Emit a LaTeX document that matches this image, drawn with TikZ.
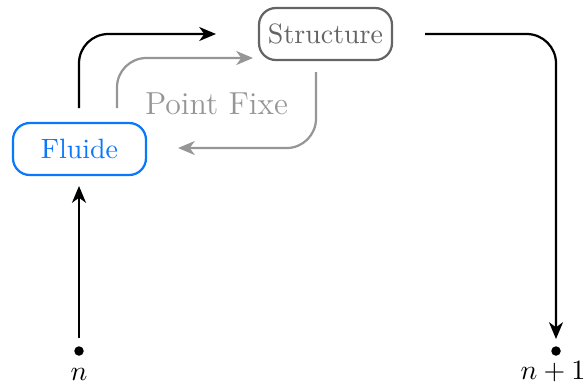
\documentclass[tikz,border=0pt]{standalone}
\usetikzlibrary{arrows.meta}
\definecolor{fluideblue}{RGB}{10,120,250}
\definecolor{structgray}{RGB}{100,100,100}
\definecolor{fixgray}{RGB}{150,150,150}
\begin{document}
\begin{tikzpicture}[x=0.358pt,y=-0.358pt,
  box/.style={draw,rounded corners=6pt,line width=0.8pt,minimum width=47.6pt,minimum height=18.6pt,inner sep=0pt},
  flow/.style={line width=0.8pt,rounded corners=10.5pt,-{Stealth[length=6pt,width=5pt,inset=1.8pt]}},
  dotn/.style={circle,fill=black,inner sep=0pt,minimum size=3.4pt}]
\useasboundingbox (0,0) rectangle (587,385);
\node[box,draw=structgray,text=structgray] (S) at (325.5,34) {Structure};
\node[box,draw=fluideblue,text=fluideblue] (F) at (79.5,149) {Fluide};
\node[dotn] (n0) at (79,351) {};
\node[dotn] (n1) at (556,351) {};
\node (l0) at (79,374) {$n$};
\node (l1) at (553,372) {$n+1$};
\node[text=fixgray,font=\fontsize{11.4}{13}\selectfont] (pf) at (216.5,104) {Point Fixe};
\coordinate (a1) at (79,108);
\coordinate (a2) at (216,34);
\coordinate (b1) at (117,108);
\coordinate (b2) at (253,58);
\coordinate (c1) at (316,72);
\coordinate (c2) at (178,148);
\coordinate (d1) at (425,34);
\coordinate (d2) at (556,339);
\coordinate (e1) at (79,338);
\coordinate (e2) at (79,186);
\draw[flow] (e1) -- (e2);
\draw[flow] (a1) |- (a2);
\draw[flow,color=fixgray] (b1) |- (b2);
\draw[flow,color=fixgray] (c1) |- (c2);
\draw[flow] (d1) -| (d2);
\end{tikzpicture}
\end{document}
